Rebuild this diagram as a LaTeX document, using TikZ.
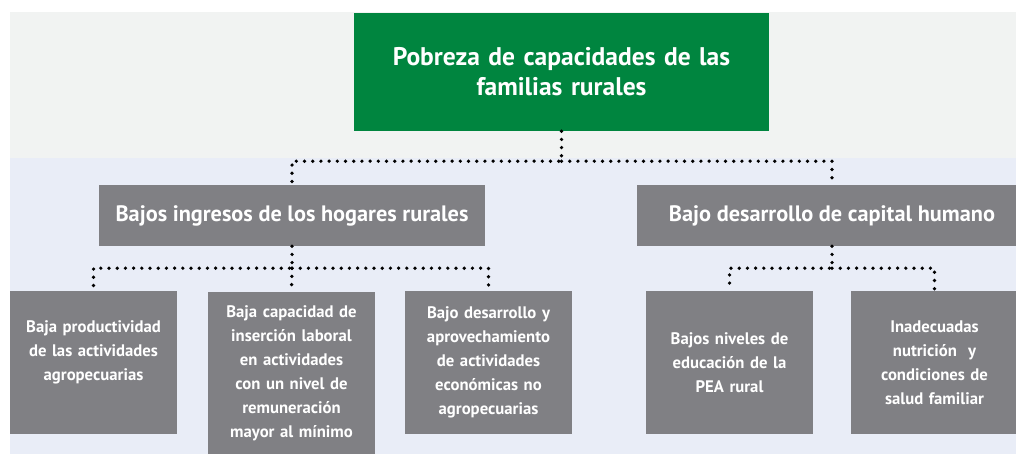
\documentclass[tikz,border=0pt]{standalone}
\usepackage{fontspec}
\setmainfont{PT Sans}
\definecolor{verde}{RGB}{0,133,63}
\definecolor{grisbox}{RGB}{128,128,132}
\definecolor{fondogris}{RGB}{241,243,242}
\definecolor{fondoazul}{RGB}{233,237,247}
\tikzset{
  problema/.style={fill=verde, text=white, inner sep=0pt, align=center,
    minimum width=415pt, minimum height=118pt, text width=400pt,
    font=\bfseries\fontsize{25.5}{30}\selectfont},
  efecto/.style={fill=grisbox, text=white, inner sep=0pt, align=center,
    minimum height=61pt, font=\bfseries\fontsize{22.3}{26}\selectfont},
  causa/.style={fill=grisbox, text=white, inner sep=0pt, align=center,
    minimum width=167pt, minimum height=143pt, text width=164pt,
    font=\bfseries\fontsize{16.7}{24}\selectfont},
  dotline/.style={line width=3.7pt, line cap=round, dash pattern=on 0pt off 8.2pt}
}
\begin{document}
\begin{tikzpicture}[x=1pt,y=-1pt]
  \clip (0,0) rectangle (1016,454);
  \fill[fondogris] (10,12) rectangle (1016,158);
  \fill[fondoazul] (10,158) rectangle (1016,454);

  \node[problema] (pobreza) at (561.5,72) {Pobreza de capacidades de las\\familias rurales};

  \node[efecto, minimum width=386pt] (ingresos) at (292,215.5) {Bajos ingresos de los hogares rurales};
  \node[efecto, minimum width=390pt] (capital) at (832,215.5) {Bajo desarrollo de capital humano};

  \node[causa] (productividad) at (93.5,362.5) {Baja productividad\\de las actividades\\agropecuarias\\\mbox{}};
  \node[causa, minimum height=162pt] (insercion) at (291.5,373) {Baja capacidad de\\inserción laboral\\en actividades\\con un nivel de\\remuneración\\mayor al mínimo};
  \node[causa] (noagro) at (488.5,362.5) {Bajo desarrollo y\\aprovechamiento\\de actividades\\económicas no\\agropecuarias};
  \node[causa] (educacion) at (729.5,362.5) {Bajos niveles de\\educación de la\\PEA rural};
  \node[causa] (salud) at (934.5,362.5) {Inadecuadas\\nutrición~ y\\condiciones de\\salud familiar};

  % conectores punteados
  \draw[dotline] (pobreza.south) -- ++(0,30) coordinate (bus1) -| (ingresos.north);
  \draw[dotline] (bus1) -| (capital.north);
  \draw[dotline] (ingresos.south) -- ++(0,22) coordinate (bus2) -| (productividad.north);
  \draw[dotline] (bus2) -- (insercion.north);
  \draw[dotline] (bus2) -| (noagro.north);
  \draw[dotline] (capital.south) -- ++(0,22) coordinate (bus3) -| (educacion.north);
  \draw[dotline] (bus3) -| (salud.north);
\end{tikzpicture}
\end{document}
